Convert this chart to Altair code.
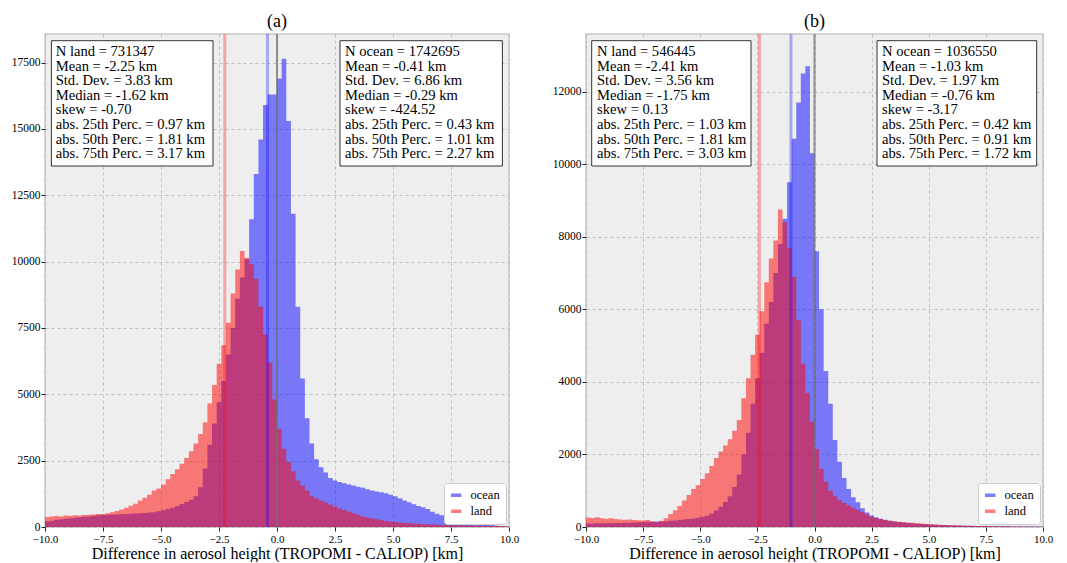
import altair as alt
import numpy as np
import pandas as pd

SERIF = "Liberation Serif"

X_TICKS = [-10.0, -7.5, -5.0, -2.5, 0.0, 2.5, 5.0, 7.5, 10.0]
Y_TICKS_A = [0, 2500, 5000, 7500, 10000, 12500, 15000, 17500]
Y_TICKS_B = [0, 2000, 4000, 6000, 8000, 10000, 12000]
X_TITLE = "Difference in aerosol height (TROPOMI - CALIOP) [km]"

# histogram bin starts (0.2 km bins from -10 to 10)
bin_starts = [round(-10.0 + 0.2 * i, 1) for i in range(100)]
BIN_END = 10.0

# ---- panel (a) counts ----
ocean_a = [
    210, 240, 270, 290, 310, 330, 350, 370, 390, 400,
    420, 440, 450, 460, 470, 470, 480, 490, 500, 505,
    515, 530, 545, 560, 590, 630, 680, 730, 790, 870,
    940, 1030, 1160, 1500, 2200, 3100, 3900, 4700, 5500, 6500,
    7500, 8600, 9400, 10100, 11600, 13300, 14600, 15900, 16300, 16300,
    16900, 17650, 15300, 11800, 8300, 5600, 4100, 3150, 2550, 2250,
    2050, 1850, 1750, 1700, 1650, 1600, 1560, 1520, 1480, 1420,
    1380, 1340, 1310, 1270, 1220, 1160, 1080, 1000, 930, 860,
    790, 740, 680, 570, 500, 440, 400, 360, 300, 260,
    220, 190, 160, 130, 105, 85, 65, 45, 30, 20,
]
land_a = [
    380, 400, 410, 400, 430, 420, 440, 430, 450, 460,
    470, 490, 490, 520, 560, 600, 660, 730, 800, 880,
    1000, 1100, 1220, 1380, 1450, 1600, 1800, 2000, 2180, 2380,
    2600, 2850, 3150, 3500, 3950, 4650, 5350, 6150, 6850, 7700,
    8800, 9700, 10400, 10150, 9900, 9350, 8300, 7250, 6200, 4800,
    3700, 2950, 2450, 2100, 1750, 1560, 1380, 1180, 1080, 1000,
    920, 850, 770, 700, 640, 580, 520, 460, 400, 360,
    320, 290, 260, 230, 210, 190, 170, 155, 140, 128,
    118, 108, 100, 92, 85, 80, 75, 70, 65, 60,
    56, 52, 48, 45, 42, 40, 37, 35, 33, 30,
]

# ---- panel (b) counts ----
ocean_b = [
    95, 95, 100, 100, 105, 105, 110, 110, 115, 120,
    125, 130, 135, 140, 145, 150, 155, 160, 170, 180,
    195, 205, 220, 235, 255, 280, 310, 370, 460, 560,
    690, 850, 1100, 1450, 2000, 2600, 3400, 4100, 4800, 5600,
    6200, 7000, 7800, 8500, 9500, 10700, 11700, 12500, 12700, 10300,
    7600, 6000, 4300, 3400, 2400, 1800, 1350, 1050, 820, 680,
    520, 400, 320, 270, 230, 200, 175, 155, 140, 125,
    112, 100, 92, 84, 77, 70, 64, 58, 53, 48,
    44, 40, 37, 34, 31, 29, 27, 25, 23, 21,
    20, 19, 18, 17, 16, 15, 14, 13, 12, 11,
]
land_b = [
    260, 250, 270, 240, 230, 240, 220, 210, 200, 210,
    190, 185, 180, 190, 160, 140, 170, 240, 360, 460,
    580, 730, 880, 1050, 1150, 1320, 1480, 1680, 1900, 2080,
    2250, 2420, 2650, 2950, 3550, 4100, 4750, 5300, 5950, 6750,
    7400, 7900, 8750, 8400, 7700, 6900, 5700, 4500, 3700, 2900,
    2150, 1600, 1250, 1000, 850, 740, 660, 590, 530, 470,
    410, 350, 290, 250, 220, 195, 175, 160, 145, 135,
    125, 115, 105, 95, 85, 75, 66, 60, 55, 50,
    46, 42, 38, 35, 32, 30, 28, 27, 25, 23,
    22, 20, 18, 16, 15, 13, 12, 11, 10, 9,
]

stats_a_land = ["N land = 731347", "Mean = -2.25 km", "Std. Dev. = 3.83 km",
                "Median = -1.62 km", "skew = -0.70", "abs. 25th Perc. = 0.97 km",
                "abs. 50th Perc. = 1.81 km", "abs. 75th Perc. = 3.17 km"]
stats_a_ocean = ["N ocean = 1742695", "Mean = -0.41 km", "Std. Dev. = 6.86 km",
                 "Median = -0.29 km", "skew = -424.52", "abs. 25th Perc. = 0.43 km",
                 "abs. 50th Perc. = 1.01 km", "abs. 75th Perc. = 2.27 km"]
stats_b_land = ["N land = 546445", "Mean = -2.41 km", "Std. Dev. = 3.56 km",
                "Median = -1.75 km", "skew = 0.13", "abs. 25th Perc. = 1.03 km",
                "abs. 50th Perc. = 1.81 km", "abs. 75th Perc. = 3.03 km"]
stats_b_ocean = ["N ocean = 1036550", "Mean = -1.03 km", "Std. Dev. = 1.97 km",
                 "Median = -0.76 km", "skew = -3.17", "abs. 25th Perc. = 0.42 km",
                 "abs. 50th Perc. = 0.91 km", "abs. 75th Perc. = 1.72 km"]

mean_a = {"land": -2.25, "ocean": -0.41}
mean_b = {"land": -2.41, "ocean": -1.03}

SERIES = ["ocean", "land"]
COLORS = ["blue", "red"]


def hist_frame(ocean, land):
    rows = []
    for name, counts in (("ocean", ocean), ("land", land)):
        xs = bin_starts + [BIN_END]
        ys = counts + [counts[-1]]
        for x, y in zip(xs, ys):
            rows.append({"series": name, "x": x, "y": y})
    return pd.DataFrame(rows)


one = pd.DataFrame({"k": [0]})


def panel(title, ocean, land, means, ymax, yticks, land_lines, ocean_lines, W, H, boxes):
    df = hist_frame(ocean, land)
    xenc = alt.X("x:Q", scale=alt.Scale(domain=[-10, 10], nice=False, zero=False),
                 axis=alt.Axis(values=X_TICKS, format=".1f", title=X_TITLE,
                               labelFlush=False, labelOverlap=False))
    yenc = alt.Y("y:Q", stack=None, scale=alt.Scale(domain=[0, ymax], nice=False),
                 axis=alt.Axis(values=yticks, format="d", title=None))
    color = alt.Color("series:N", scale=alt.Scale(domain=SERIES, range=COLORS),
                      title=None,
                      legend=alt.Legend(orient="bottom-right", offset=3))
    layers = []
    for s in SERIES:
        layers.append(
            alt.Chart(df).transform_filter(alt.datum.series == s)
            .mark_area(interpolate="step-after", opacity=0.5, clip=True)
            .encode(x=xenc, y=yenc, color=color)
        )
    layers.append(alt.Chart(one).mark_rule(color="red", opacity=0.3, strokeWidth=3)
                  .encode(x=alt.datum(means["land"])))
    layers.append(alt.Chart(one).mark_rule(color="blue", opacity=0.3, strokeWidth=3)
                  .encode(x=alt.datum(means["ocean"])))
    layers.append(alt.Chart(one).mark_rule(color="#707070", opacity=0.75, strokeWidth=2)
                  .encode(x=alt.datum(0)))
    for (x0, x1, tx), lines in zip(boxes, (land_lines, ocean_lines)):
        layers.append(alt.Chart(one).mark_rect(fill="white", stroke="#333333", strokeWidth=1)
                      .encode(x=alt.value(x0), x2=alt.value(x1),
                              y=alt.value(6.7), y2=alt.value(132)))
        layers.append(alt.Chart(one).mark_text(align="left", baseline="top", font=SERIF,
                                               fontSize=14.6, lineBreak="\n", lineHeight=14.6,
                                               color="black")
                      .encode(x=alt.value(tx), y=alt.value(10), text=alt.value("\n".join(lines))))
    return alt.layer(*layers).properties(
        width=W, height=H,
        title=alt.TitleParams(title, font=SERIF, fontSize=18, fontWeight="normal",
                              anchor="middle", offset=1.5, color="black"),
    )


PLOT_H = 493
pa = panel("(a)", ocean_a, land_a, mean_a, 18578, Y_TICKS_A, stats_a_land, stats_a_ocean,
           464, PLOT_H, [(6.4, 168, 10.7), (295, 457.4, 300)])
pb = panel("(b)", ocean_b, land_b, mean_b, 13590, Y_TICKS_B, stats_b_land, stats_b_ocean,
           457, PLOT_H, [(5.7, 165, 11), (291, 450.7, 296)])

chart = (
    alt.hconcat(pa, pb, spacing=31)
    .resolve_scale(color="independent", x="independent", y="independent")
    .resolve_legend(color="independent")
    .properties(padding={"left": 2, "top": 4, "right": 0, "bottom": 0})
    .configure_view(fill="#eeeeee", stroke="#c8c8c8", strokeWidth=1.5)
    .configure_axis(
        grid=True, gridColor="#b6b6b6", gridDash=[3, 3], gridWidth=0.8,
        domain=False, ticks=True, tickSize=4, tickColor="#222222", tickWidth=1,
        labelFont=SERIF, labelFontSize=11.5, labelColor="black", labelPadding=1,
        titleFont=SERIF, titleFontSize=16, titleFontWeight="normal", titleColor="black",
        titlePadding=1,
    )
    .configure_axisX(labelPadding=2, labelFontSize=11)
    .configure_axisY(minExtent=31, maxExtent=31)
    .configure_legend(
        fillColor="white", strokeColor="#cccccc", cornerRadius=3, padding=6,
        labelFont=SERIF, labelFontSize=12.5, labelColor="black", rowPadding=3,
        symbolType="M-1.5,-0.5L1.5,-0.5L1.5,0.5L-1.5,0.5Z", symbolSize=49,
        symbolStrokeWidth=0, symbolOpacity=0.5, labelOffset=8,
    )
)

chart.save("out.html", embed_options={"renderer": "svg", "actions": False})
